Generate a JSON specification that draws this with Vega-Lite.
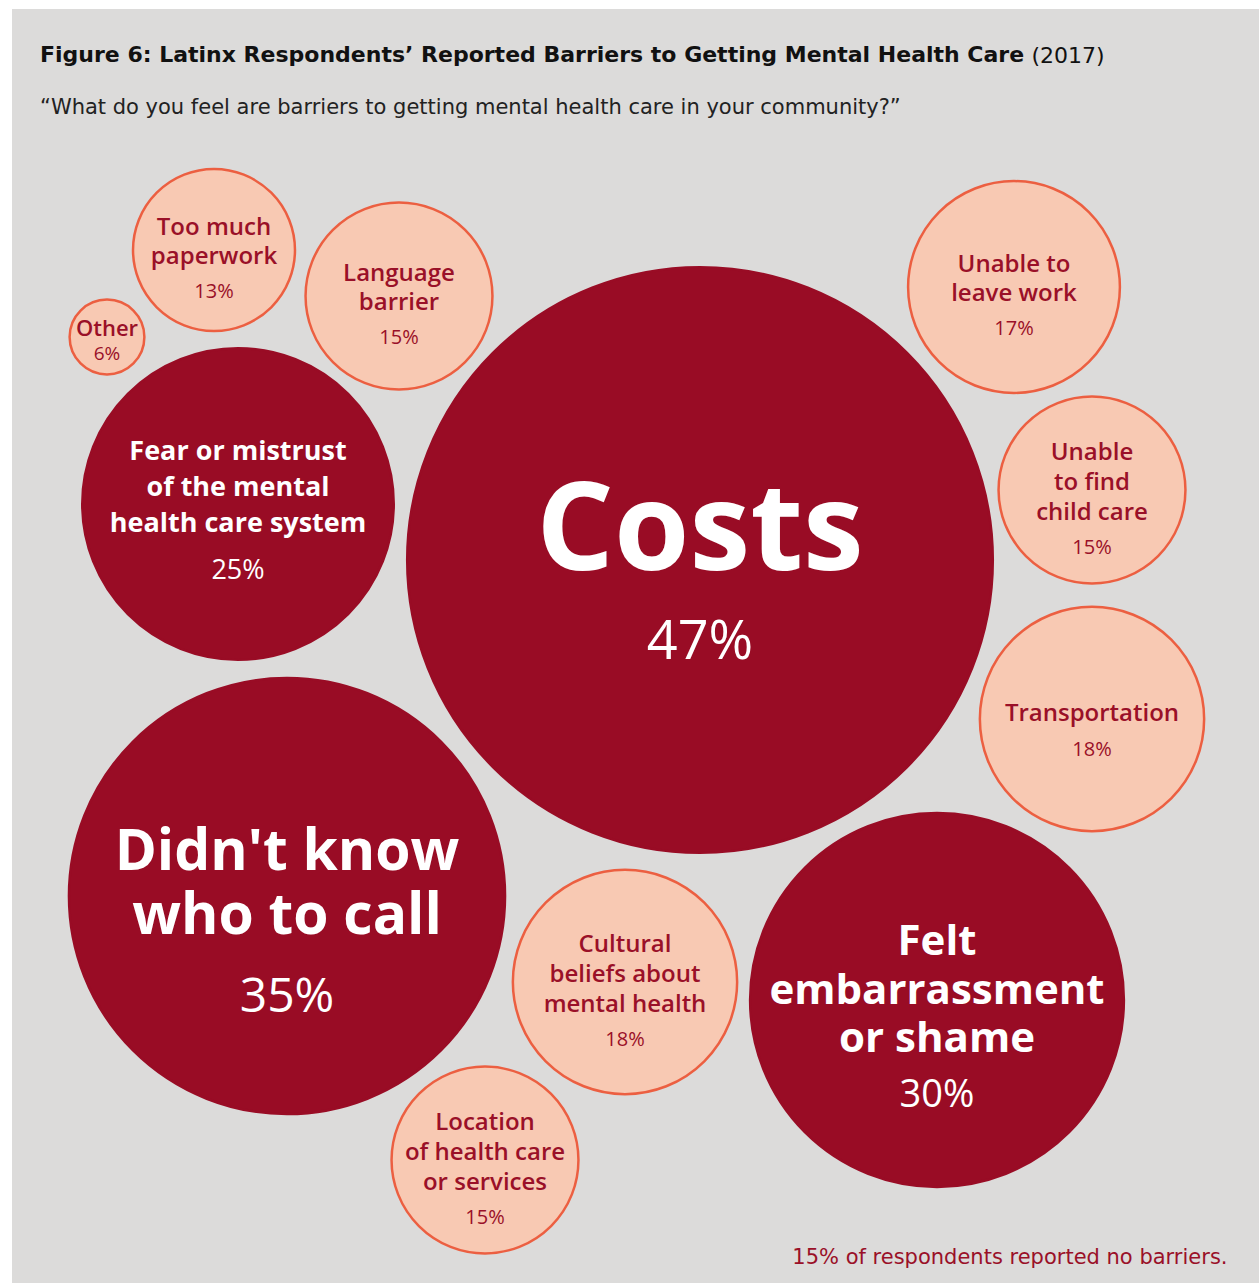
{
  "$schema": "https://vega.github.io/schema/vega-lite/v6.json",
  "width": 1247,
  "height": 1274,
  "autosize": {"type": "none"},
  "padding": {"left": 12, "top": 9, "right": 0, "bottom": 0},
  "background": "#ffffff",
  "config": {
    "view": {"fill": "#dcdbda", "stroke": null},
    "text": {"font": "Open Sans", "lineBreak": "\n", "align": "center", "baseline": "middle"}
  },
  "title": {
    "text": "Figure 6: Latinx Respondents’ Reported Barriers to Getting Mental Health Care",
    "subtitle": "“What do you feel are barriers to getting mental health care in your community?”",
    "anchor": "start",
    "frame": "group",
    "orient": "top",
    "offset": -110,
    "dx": 28,
    "font": "DejaVu Sans",
    "fontSize": 22,
    "fontWeight": "bold",
    "color": "#111111",
    "subtitleFont": "DejaVu Sans",
    "subtitleFontSize": 21,
    "subtitleColor": "#222222",
    "subtitlePadding": 30
  },
  "data": {
    "values": [
      {"label": "Costs", "share": 0.47, "x": 700, "y": 560},
      {"label": "Didn't know\nwho to call", "share": 0.35, "x": 287, "y": 896},
      {"label": "Felt\nembarrassment\nor shame", "share": 0.30, "x": 937, "y": 1000},
      {"label": "Fear or mistrust\nof the mental\nhealth care system", "share": 0.25, "x": 238, "y": 504},
      {"label": "Unable to\nleave work", "share": 0.17, "x": 1014, "y": 287},
      {"label": "Unable\nto find\nchild care", "share": 0.15, "x": 1092, "y": 490},
      {"label": "Transportation", "share": 0.18, "x": 1092, "y": 719},
      {"label": "Cultural\nbeliefs about\nmental health", "share": 0.18, "x": 625, "y": 982},
      {"label": "Location\nof health care\nor services", "share": 0.15, "x": 485, "y": 1160},
      {"label": "Language\nbarrier", "share": 0.15, "x": 399, "y": 296},
      {"label": "Too much\npaperwork", "share": 0.13, "x": 214, "y": 250},
      {"label": "Other", "share": 0.06, "x": 107, "y": 337}
    ]
  },
  "encoding": {
    "x": {"field": "x", "type": "quantitative", "scale": {"domain": [12, 1259], "nice": false, "zero": false}},
    "y": {"field": "y", "type": "quantitative", "scale": {"domain": [9, 1283], "nice": false, "zero": false, "reverse": true}}
  },
  "layer": [
    {
      "mark": {"type": "circle", "opacity": 1, "strokeWidth": 2.5},
      "encoding": {
        "x": {"field": "x", "type": "quantitative", "scale": {"domain": [12, 1259], "nice": false, "zero": false},
          "axis": {"orient": "bottom", "domain": false, "ticks": false, "labels": false, "grid": false,
            "title": "15% of respondents reported no barriers.", "titleX": 1215, "titleY": -20,
            "titleAlign": "right", "titleAnchor": null, "titleBaseline": "alphabetic", "titleFont": "DejaVu Sans",
            "titleFontSize": 21, "titleFontWeight": "normal", "titleColor": "#9a1028"}},
        "y": {"field": "y", "type": "quantitative", "scale": {"domain": [9, 1283], "nice": false, "zero": false, "reverse": true},
          "axis": {"orient": "left", "domain": false, "ticks": false, "labels": false, "grid": false,
            "title": "(2017)", "titleAngle": 0, "titleX": 1019, "titleY": 53, "titleAlign": "left",
            "titleAnchor": null, "titleBaseline": "alphabetic", "titleFont": "DejaVu Sans", "titleFontSize": 22,
            "titleFontWeight": "normal", "titleColor": "#111111"}},
        "size": {"field": "share", "type": "quantitative", "legend": null,
          "scale": {"type": "pow", "exponent": 2, "domain": [0, 0.47], "range": [0, 342928]}},
        "fill": {"field": "share", "type": "quantitative", "legend": null,
          "scale": {"type": "threshold", "domain": [0.2], "range": ["#f8c9b3", "#990c25"]}},
        "stroke": {"field": "share", "type": "quantitative", "legend": null,
          "scale": {"type": "threshold", "domain": [0.2], "range": ["#ec5f41", "#990c25"]}}
      }
    },
    {
      "transform": [{"filter": "datum.share == 0.47"}],
      "mark": {"type": "text", "fontSize": 122, "fontWeight": "bold", "color": "#ffffff", "dy": -27},
      "encoding": {"text": {"field": "label"}}
    },
    {
      "transform": [{"filter": "datum.share == 0.35"}],
      "mark": {"type": "text", "fontSize": 57, "fontWeight": "bold", "color": "#ffffff", "dy": -43, "lineHeight": 64},
      "encoding": {"text": {"field": "label"}}
    },
    {
      "transform": [{"filter": "datum.share == 0.30"}],
      "mark": {"type": "text", "fontSize": 42, "fontWeight": "bold", "color": "#ffffff", "dy": -58, "lineHeight": 48.5},
      "encoding": {"text": {"field": "label"}}
    },
    {
      "transform": [{"filter": "datum.share == 0.25"}],
      "mark": {"type": "text", "fontSize": 27, "fontWeight": "bold", "color": "#ffffff", "dy": -52, "lineHeight": 36},
      "encoding": {"text": {"field": "label"}}
    },
    {
      "transform": [{"filter": "datum.share < 0.2 && datum.share > 0.1 && length(split(datum.label, '\\n')) == 1"}],
      "mark": {"type": "text", "fontSize": 24, "fontWeight": 600, "color": "#9a1028", "dy": -5},
      "encoding": {"text": {"field": "label"}}
    },
    {
      "transform": [{"filter": "datum.share < 0.2 && datum.share > 0.1 && length(split(datum.label, '\\n')) == 2"}],
      "mark": {"type": "text", "fontSize": 24, "fontWeight": 600, "color": "#9a1028", "dy": -22, "lineHeight": 29},
      "encoding": {"text": {"field": "label"}}
    },
    {
      "transform": [{"filter": "datum.share < 0.2 && datum.share > 0.1 && length(split(datum.label, '\\n')) == 3"}],
      "mark": {"type": "text", "fontSize": 24, "fontWeight": 600, "color": "#9a1028", "dy": -37, "lineHeight": 30},
      "encoding": {"text": {"field": "label"}}
    },
    {
      "transform": [{"filter": "datum.share < 0.1"}],
      "mark": {"type": "text", "fontSize": 22, "fontWeight": 600, "color": "#9a1028", "dy": -8},
      "encoding": {"text": {"field": "label"}}
    },
    {
      "transform": [{"filter": "datum.share == 0.47"}],
      "mark": {"type": "text", "fontSize": 54, "color": "#ffffff", "dy": 83},
      "encoding": {"text": {"field": "share", "format": ".0%"}}
    },
    {
      "transform": [{"filter": "datum.share == 0.35"}],
      "mark": {"type": "text", "fontSize": 48, "color": "#ffffff", "dy": 102},
      "encoding": {"text": {"field": "share", "format": ".0%"}}
    },
    {
      "transform": [{"filter": "datum.share == 0.30"}],
      "mark": {"type": "text", "fontSize": 38, "color": "#ffffff", "dy": 96},
      "encoding": {"text": {"field": "share", "format": ".0%"}}
    },
    {
      "transform": [{"filter": "datum.share == 0.25"}],
      "mark": {"type": "text", "fontSize": 27, "color": "#ffffff", "dy": 67},
      "encoding": {"text": {"field": "share", "format": ".0%"}}
    },
    {
      "transform": [{"filter": "datum.share < 0.2 && datum.share > 0.1 && length(split(datum.label, '\\n')) == 1"}],
      "mark": {"type": "text", "fontSize": 20, "color": "#9a1028", "dy": 31},
      "encoding": {"text": {"field": "share", "format": ".0%"}}
    },
    {
      "transform": [{"filter": "datum.share < 0.2 && datum.share > 0.1 && length(split(datum.label, '\\n')) == 2"}],
      "mark": {"type": "text", "fontSize": 20, "color": "#9a1028", "dy": 42},
      "encoding": {"text": {"field": "share", "format": ".0%"}}
    },
    {
      "transform": [{"filter": "datum.share < 0.2 && datum.share > 0.1 && length(split(datum.label, '\\n')) == 3"}],
      "mark": {"type": "text", "fontSize": 20, "color": "#9a1028", "dy": 58},
      "encoding": {"text": {"field": "share", "format": ".0%"}}
    },
    {
      "transform": [{"filter": "datum.share < 0.1"}],
      "mark": {"type": "text", "fontSize": 19, "color": "#9a1028", "dy": 17},
      "encoding": {"text": {"field": "share", "format": ".0%"}}
    }
  ]
}
